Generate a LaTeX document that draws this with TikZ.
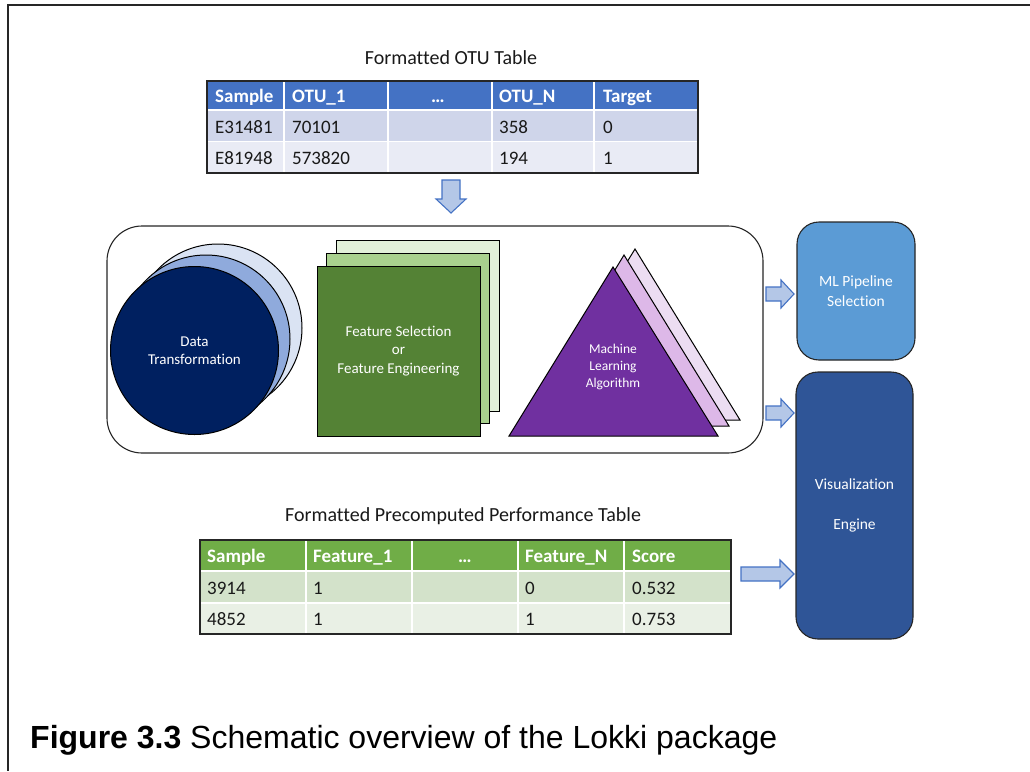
\documentclass[tikz,border=0pt]{standalone}
\usepackage{fontspec}
\setmainfont{Carlito}[Ligatures=NoCommon]
\newfontfamily\capfont{Liberation Sans}
\usepackage{graphicx}
\definecolor{hdrblue}{HTML}{4472C4}
\definecolor{rowblueA}{HTML}{CFD5EA}
\definecolor{rowblueB}{HTML}{E9EBF5}
\definecolor{hdrgreen}{HTML}{70AD47}
\definecolor{rowgreenA}{HTML}{D3E2CA}
\definecolor{rowgreenB}{HTML}{E9F0E5}
\definecolor{circA}{HTML}{002060}
\definecolor{circB}{HTML}{8FAADC}
\definecolor{circC}{HTML}{DAE3F3}
\definecolor{sqA}{HTML}{548235}
\definecolor{sqB}{HTML}{A9D18E}
\definecolor{sqC}{HTML}{E2F0D9}
\definecolor{triA}{HTML}{7030A0}
\definecolor{triB}{HTML}{DDB8E8}
\definecolor{triC}{HTML}{ECDDF2}
\definecolor{arrfill}{HTML}{B4C7E7}
\definecolor{arrdraw}{HTML}{4472C4}
\definecolor{mlblue}{HTML}{5B9BD5}
\definecolor{visblue}{HTML}{2F5597}
\newcommand\tblfont{\fontsize{19}{22}\selectfont}
\newcommand\rblockarrow[4]{% tail x, head x, tip x, center y
  \draw[blockarr] (#1,#4-7) -- (#2,#4-7) -- (#2,#4-14) -- (#3,#4) -- (#2,#4+14) -- (#2,#4+7) -- (#1,#4+7) -- cycle;}
\tikzset{
  blockarr/.style={fill=arrfill, draw=arrdraw, line width=1.1pt, line join=miter},
  hdrtxt/.style={anchor=base west, inner sep=0pt, text=white, font=\tblfont\bfseries},
  celltxt/.style={anchor=base west, inner sep=0pt, text=black!90, font=\tblfont},
  titletxt/.style={inner sep=0pt, font=\fontsize{20}{24}\selectfont, text=black!90},
  shapeout/.style={draw=black, line width=1pt},
  whiteline/.style={draw=white, line width=1.6pt},
}
\begin{document}
\begin{tikzpicture}[x=1pt,y=-1pt]
\useasboundingbox (0,0) rectangle (1030,771);
% frame
\draw[line width=2pt, black!85] (1030,5) -- (8,5) -- (8,771);

% ---------- top table ----------
\node[titletxt] (t1title) at (451,58) {Formatted OTU Table};
\fill[hdrblue] (207,81) rectangle (698,110);
\fill[rowblueA] (207,110) rectangle (698,141.5);
\fill[rowblueB] (207,141.5) rectangle (698,173);
\foreach \x in {284,388,492,594} \draw[whiteline] (\x,81) -- (\x,173);
\draw[white, line width=2.6pt] (207,110) -- (698,110);
\draw[whiteline] (207,141.5) -- (698,141.5);
\draw[line width=1.5pt, black!85] (207,81) rectangle (698,173);
\node[hdrtxt] (a11) at (215,102) {Sample};
\node[hdrtxt] (a12) at (292,102) {OTU\_1};
\node[hdrtxt, anchor=base] (a13) at (438,102) {…};
\node[hdrtxt] (a14) at (499,102) {OTU\_N};
\node[hdrtxt] (a15) at (603,102) {Target};
\node[celltxt] (a21) at (215,133) {E31481};
\node[celltxt] (a22) at (292,133) {70101};
\node[celltxt] (a24) at (499,133) {358};
\node[celltxt] (a25) at (603,133) {0};
\node[celltxt] (a31) at (215,164) {E81948};
\node[celltxt] (a32) at (292,164) {573820};
\node[celltxt] (a34) at (499,164) {194};
\node[celltxt] (a35) at (603,164) {1};

% down arrow
\draw[blockarr] (442,180) -- (460,180) -- (460,199) -- (466,199) -- (451,213) -- (436,199) -- (442,199) -- cycle;

% ---------- pipeline box ----------
\draw[line width=1.1pt, black!85, fill=white, rounded corners=35pt] (107,226) rectangle (763,453);

% circles
\node[circle, shapeout, fill=circC, minimum size=168pt, inner sep=0pt] (circ3) at (218,328) {};
\node[circle, shapeout, fill=circB, minimum size=168pt, inner sep=0pt] (circ2) at (206,339) {};
\node[circle, shapeout, fill=circA, minimum size=168pt, inner sep=0pt, text=white, align=center,
      font=\fontsize{15}{18}\selectfont] (circ1) at (194.5,350.5) {Data\\Transformation};

% squares
\node[rectangle, shapeout, fill=sqC, minimum width=163pt, minimum height=171pt, inner sep=0pt] (sq3) at (417.5,325.5) {};
\node[rectangle, shapeout, fill=sqB, minimum width=163pt, minimum height=170pt, inner sep=0pt] (sq2) at (407.5,338) {};
\node[rectangle, shapeout, fill=sqA, minimum width=163pt, minimum height=170pt, inner sep=0pt, text=white, align=center,
      font=\fontsize{15}{18.5}\selectfont] (sq1) at (398.5,351) {Feature Selection\\or\\Feature Engineering};

% triangles
\draw[shapeout, fill=triC, line join=miter] (530,420) -- (635,249) -- (740,420) -- cycle;
\draw[shapeout, fill=triB, line join=miter] (520,426) -- (624,255) -- (729,426) -- cycle;
\draw[shapeout, fill=triA, line join=miter] (509,436) -- (613,267) -- (718,436) -- cycle;
\node[text=white, align=center, inner sep=0pt, font=\fontsize{13.5}{16.6}\selectfont] (mla) at (613,367) {Machine\\Learning\\Algorithm};

% ---------- right boxes ----------
\node[rectangle, rounded corners=22pt, draw=black!85, line width=1.1pt, fill=mlblue, minimum width=118pt, minimum height=138pt,
      text=white, align=center, inner sep=0pt, font=\fontsize{15.5}{19.5}\selectfont] (ml) at (856,291) {ML Pipeline\\Selection};
\node[rectangle, rounded corners=22pt, draw=black!85, line width=1.1pt, fill=visblue, minimum width=117pt, minimum height=267pt,
      text=white, align=center, inner sep=0pt, font=\fontsize{15.5}{19.5}\selectfont] (vis) at (854.5,505.5) {Visualization\\[20.5pt]Engine};

\rblockarrow{766}{781}{794}{294}
\rblockarrow{766}{781}{794}{413}
\rblockarrow{741}{780}{794}{574}

% ---------- bottom table ----------
\node[titletxt] (t2title) at (463,516) {Formatted Precomputed Performance Table};
\fill[hdrgreen] (200,540) rectangle (731,571);
\fill[rowgreenA] (200,571) rectangle (731,603);
\fill[rowgreenB] (200,603) rectangle (731,634);
\foreach \x in {306,412,518,624} \draw[whiteline] (\x,540) -- (\x,634);
\draw[white, line width=2.6pt] (200,571) -- (731,571);
\draw[whiteline] (200,603) -- (731,603);
\draw[line width=1.5pt, black!85] (200,540) rectangle (731,634);
\node[hdrtxt] (b11) at (207,562) {Sample};
\node[hdrtxt] (b12) at (313,562) {Feature\_1};
\node[hdrtxt, anchor=base] (b13) at (465,562) {…};
\node[hdrtxt] (b14) at (525,562) {Feature\_N};
\node[hdrtxt] (b15) at (632,562) {Score};
\node[celltxt] (b21) at (207,594) {3914};
\node[celltxt] (b22) at (313,594) {1};
\node[celltxt] (b24) at (525,594) {0};
\node[celltxt] (b25) at (632,594) {0.532};
\node[celltxt] (b31) at (207,625) {4852};
\node[celltxt] (b32) at (313,625) {1};
\node[celltxt] (b34) at (525,625) {1};
\node[celltxt] (b35) at (632,625) {0.753};

% caption
\node[anchor=base west, inner sep=0pt, font=\capfont\fontsize{32}{38}\selectfont] (cap) at (30,748)
  {\textbf{Figure 3.3} Schematic overview of the Lokki package};
\end{tikzpicture}
\end{document}
